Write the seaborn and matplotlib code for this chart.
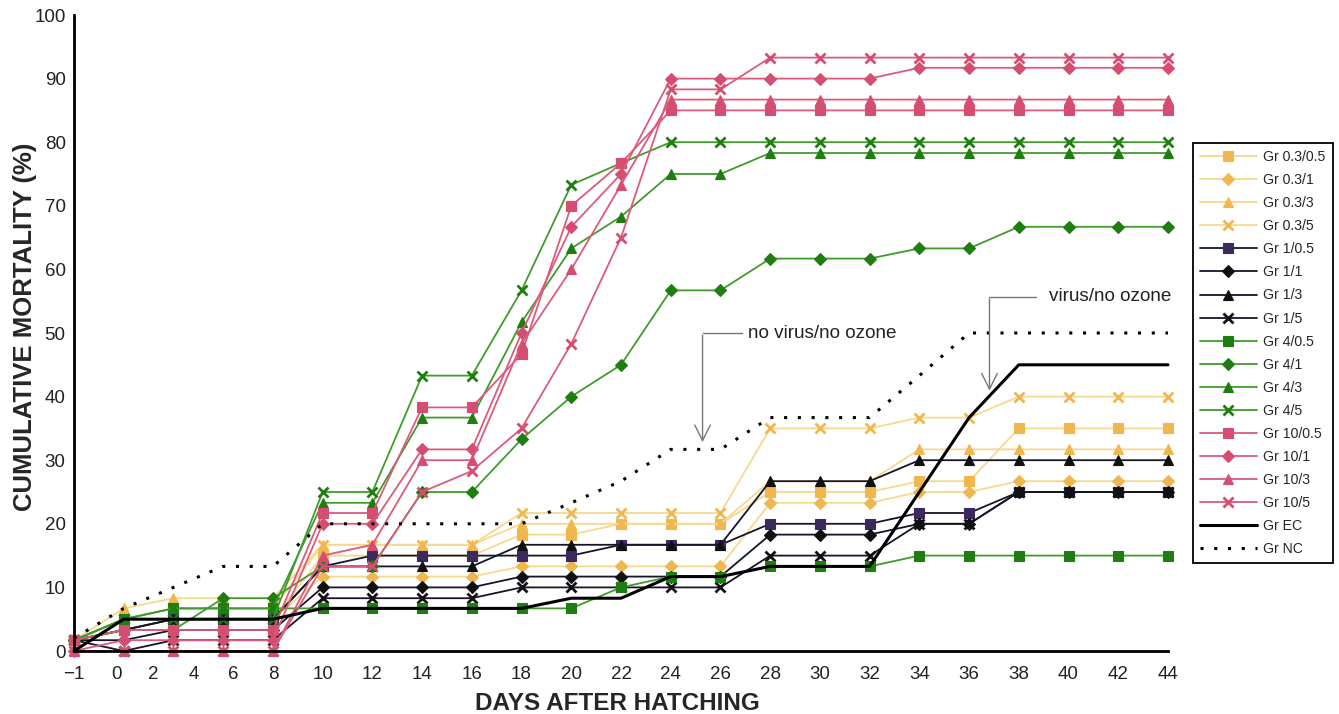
import matplotlib
matplotlib.use('Agg')
import matplotlib.pyplot as plt
import seaborn as sns

sns.set_theme(style="white")
plt.rcParams['font.family'] = ['Liberation Sans', 'DejaVu Sans']

# sampling occasions, evenly spaced along the x axis of the original figure
sample_no = list(range(23))

tick_pos = [0, 0.85, 1.6, 2.4, 3.2, 4] + list(range(5, 23))
tick_labels = ['\u22121', '0', '2', '4', '6', '8'] + [str(d) for d in range(10, 45, 2)]

# cumulative mortality (%) per group
gr_03_05 = [1.7, 3.3, 5.0, 5.0, 5.0, 15.0, 15.0, 15.0, 15.0, 18.3, 18.3, 20.0, 20.0, 20.0, 25.0, 25.0, 25.0, 26.7, 26.7, 35.0, 35.0, 35.0, 35.0]
gr_03_1 = [1.7, 3.3, 5.0, 5.0, 5.0, 11.7, 11.7, 11.7, 11.7, 13.3, 13.3, 13.3, 13.3, 13.3, 23.3, 23.3, 23.3, 25.0, 25.0, 26.7, 26.7, 26.7, 26.7]
gr_03_3 = [1.7, 6.7, 8.3, 8.3, 8.3, 16.7, 16.7, 16.7, 16.7, 20.0, 20.0, 20.0, 20.0, 20.0, 26.7, 26.7, 26.7, 31.7, 31.7, 31.7, 31.7, 31.7, 31.7]
gr_03_5 = [1.7, 5.0, 6.7, 6.7, 6.7, 16.7, 16.7, 16.7, 16.7, 21.7, 21.7, 21.7, 21.7, 21.7, 35.0, 35.0, 35.0, 36.7, 36.7, 40.0, 40.0, 40.0, 40.0]

gr_1_05 = [1.7, 3.3, 5.0, 5.0, 5.0, 13.3, 15.0, 15.0, 15.0, 15.0, 15.0, 16.7, 16.7, 16.7, 20.0, 20.0, 20.0, 21.7, 21.7, 25.0, 25.0, 25.0, 25.0]
gr_1_1 = [1.7, 1.7, 3.3, 3.3, 3.3, 10.0, 10.0, 10.0, 10.0, 11.7, 11.7, 11.7, 11.7, 11.7, 18.3, 18.3, 18.3, 20.0, 20.0, 25.0, 25.0, 25.0, 25.0]
gr_1_3 = [1.7, 3.3, 5.0, 5.0, 5.0, 13.3, 13.3, 13.3, 13.3, 16.7, 16.7, 16.7, 16.7, 16.7, 26.7, 26.7, 26.7, 30.0, 30.0, 30.0, 30.0, 30.0, 30.0]
gr_1_5 = [1.7, 0.0, 1.7, 1.7, 1.7, 8.3, 8.3, 8.3, 8.3, 10.0, 10.0, 10.0, 10.0, 10.0, 15.0, 15.0, 15.0, 20.0, 20.0, 25.0, 25.0, 25.0, 25.0]

gr_4_05 = [1.7, 5.0, 6.7, 6.7, 6.7, 6.7, 6.7, 6.7, 6.7, 6.7, 6.7, 10.0, 11.7, 11.7, 13.3, 13.3, 13.3, 15.0, 15.0, 15.0, 15.0, 15.0, 15.0]
gr_4_1 = [1.7, 3.3, 3.3, 8.3, 8.3, 13.3, 13.3, 25.0, 25.0, 33.3, 40.0, 45.0, 56.7, 56.7, 61.7, 61.7, 61.7, 63.3, 63.3, 66.7, 66.7, 66.7, 66.7]
gr_4_3 = [1.7, 5.0, 6.7, 6.7, 6.7, 23.3, 23.3, 36.7, 36.7, 51.7, 63.3, 68.3, 75.0, 75.0, 78.3, 78.3, 78.3, 78.3, 78.3, 78.3, 78.3, 78.3, 78.3]
gr_4_5 = [1.7, 5.0, 5.0, 5.0, 5.0, 25.0, 25.0, 43.3, 43.3, 56.7, 73.3, 76.7, 80.0, 80.0, 80.0, 80.0, 80.0, 80.0, 80.0, 80.0, 80.0, 80.0, 80.0]

gr_10_05 = [1.7, 3.3, 3.3, 3.3, 3.3, 21.7, 21.7, 38.3, 38.3, 46.7, 70.0, 76.7, 85.0, 85.0, 85.0, 85.0, 85.0, 85.0, 85.0, 85.0, 85.0, 85.0, 85.0]
gr_10_1 = [0.0, 1.7, 1.7, 1.7, 1.7, 20.0, 20.0, 31.7, 31.7, 50.0, 66.7, 75.0, 90.0, 90.0, 90.0, 90.0, 90.0, 91.7, 91.7, 91.7, 91.7, 91.7, 91.7]
gr_10_3 = [0.0, 0.0, 0.0, 0.0, 0.0, 15.0, 16.7, 30.0, 30.0, 48.3, 60.0, 73.3, 86.7, 86.7, 86.7, 86.7, 86.7, 86.7, 86.7, 86.7, 86.7, 86.7, 86.7]
gr_10_5 = [0.0, 0.0, 0.0, 0.0, 0.0, 13.3, 13.3, 25.0, 28.3, 35.0, 48.3, 65.0, 88.3, 88.3, 93.3, 93.3, 93.3, 93.3, 93.3, 93.3, 93.3, 93.3, 93.3]

gr_ec = [0.0, 5.0, 5.0, 5.0, 5.0, 6.7, 6.7, 6.7, 6.7, 6.7, 8.3, 8.3, 11.7, 11.7, 13.3, 13.3, 13.3, 25.0, 36.7, 45.0, 45.0, 45.0, 45.0]
gr_nc = [2.0, 6.7, 10.0, 13.3, 13.3, 20.0, 20.0, 20.0, 20.0, 20.0, 23.3, 26.7, 31.7, 31.7, 36.7, 36.7, 36.7, 43.3, 50.0, 50.0, 50.0, 50.0, 50.0]

YEL_L, YEL_M = '#f6d88e', '#f0b74e'
BLK_L, BLK_M = '#15152a', '#111111'
GRN_L, GRN_M = '#3f9c2a', '#1f7d12'
PNK_L, PNK_M = '#dc5a7c', '#d64d72'

series = [
    ('Gr 0.3/0.5', gr_03_05, YEL_L, YEL_M, 's'),
    ('Gr 0.3/1', gr_03_1, YEL_L, YEL_M, 'D'),
    ('Gr 0.3/3', gr_03_3, YEL_L, YEL_M, '^'),
    ('Gr 0.3/5', gr_03_5, YEL_L, YEL_M, 'x'),
    ('Gr 1/0.5', gr_1_05, BLK_L, '#3b2a5e', 's'),
    ('Gr 1/1', gr_1_1, BLK_L, BLK_M, 'D'),
    ('Gr 1/3', gr_1_3, BLK_L, BLK_M, '^'),
    ('Gr 1/5', gr_1_5, BLK_L, BLK_M, 'x'),
    ('Gr 4/0.5', gr_4_05, GRN_L, GRN_M, 's'),
    ('Gr 4/1', gr_4_1, GRN_L, GRN_M, 'D'),
    ('Gr 4/3', gr_4_3, GRN_L, GRN_M, '^'),
    ('Gr 4/5', gr_4_5, GRN_L, GRN_M, 'x'),
    ('Gr 10/0.5', gr_10_05, PNK_L, PNK_M, 's'),
    ('Gr 10/1', gr_10_1, PNK_L, PNK_M, 'D'),
    ('Gr 10/3', gr_10_3, PNK_L, PNK_M, '^'),
    ('Gr 10/5', gr_10_5, PNK_L, PNK_M, 'x'),
]

fig = plt.figure(figsize=(13.39, 7.14), dpi=100)
ax = fig.add_axes([74 / 1339, 1 - 651 / 714, 1094 / 1339, 636 / 714])

for name, vals, lc, mc, mk in series:
    size = 6 if mk == 'D' else 7
    sns.lineplot(x=sample_no, y=vals, ax=ax, color=lc, linewidth=1.3,
                 marker=mk, markersize=size, markerfacecolor=mc,
                 markeredgecolor=mc, markeredgewidth=2 if mk == 'x' else 0.8,
                 errorbar=None, label=name, clip_on=False)

sns.lineplot(x=sample_no, y=gr_ec, ax=ax, color='black', linewidth=2.2,
             errorbar=None, label='Gr EC', clip_on=False)
sns.lineplot(x=sample_no, y=gr_nc, ax=ax, color='black', linewidth=2.2,
             linestyle=(0, (1, 3.5)), errorbar=None, label='Gr NC', clip_on=False)

ax.set_xlim(0, 22)
ax.set_ylim(0, 100)
ax.set_yticks(range(0, 101, 10))
ax.set_xticks(tick_pos)
ax.set_xticklabels(tick_labels)
for s in ['top', 'right']:
    ax.spines[s].set_visible(False)
for s in ['left', 'bottom']:
    ax.spines[s].set_color('black')
    ax.spines[s].set_linewidth(2)
ax.tick_params(axis='both', direction='inout', length=9, width=1.5,
               color='black', labelsize=13.5, labelcolor='#222222')
ax.tick_params(axis='x', pad=6)
ax.tick_params(axis='y', pad=1.5)
ax.grid(False)

ax.set_ylabel('CUMULATIVE MORTALITY (%)', fontsize=18.5, fontweight='bold')
ax.yaxis.set_label_coords(-0.034, 0.51)
ax.set_xlabel('DAYS AFTER HATCHING', fontsize=17.5, fontweight='bold', va='center')
ax.xaxis.set_label_coords(0.497, -0.082)

# bracket arrows with annotations
ax.plot([12.64, 13.44], [50.0, 50.0], color='#777777', lw=1)
ax.annotate('', xy=(12.64, 32.4), xytext=(12.64, 50.1),
            arrowprops=dict(arrowstyle='->', color='#777777', lw=1, mutation_scale=28))
ax.text(13.56, 50.0, 'no virus/no ozone', fontsize=13.6, va='center', ha='left', color='#222222')

ax.plot([18.41, 19.34], [55.7, 55.7], color='#777777', lw=1)
ax.annotate('', xy=(18.41, 40.5), xytext=(18.41, 55.8),
            arrowprops=dict(arrowstyle='->', color='#777777', lw=1, mutation_scale=28))
ax.text(19.6, 55.7, 'virus/no ozone', fontsize=13.6, va='center', ha='left', color='#222222')

handles, labels = ax.get_legend_handles_labels()
leg = ax.legend(handles, labels, loc='upper left', bbox_to_anchor=(1193 / 1339, 1 - 143 / 714),
                bbox_transform=fig.transFigure, fontsize=10.2, handlelength=4.0,
                handletextpad=0.45, labelspacing=0.64, borderpad=0.5, borderaxespad=0,
                frameon=True, fancybox=False, edgecolor='black', framealpha=1)
leg.get_frame().set_linewidth(1.3)

fig.savefig('out.png', dpi=100)
